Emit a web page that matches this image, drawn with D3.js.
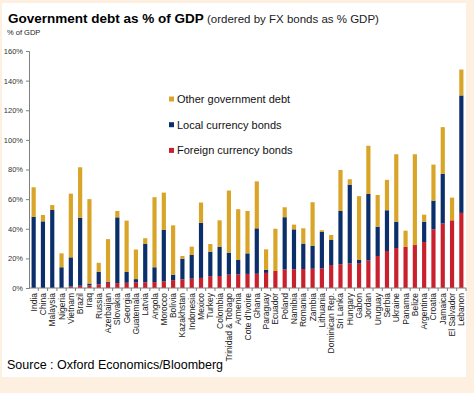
<!DOCTYPE html>
<html>
<head>
<meta charset="utf-8">
<script src="https://cdn.jsdelivr.net/npm/d3@7"></script>
<style>
  body { margin: 0; background: #fdf0e1; }
  svg { display: block; font-family: Arial, "Liberation Sans", sans-serif; }
</style>
</head>
<body>
<div id="chart"></div>
<script>
// countries, ordered by FX bonds as % GDP
var countries = ["India", "China", "Malaysia", "Nigeria", "Vietnam", "Brazil", "Iraq", "Russia",
  "Azerbaijan", "Slovakia", "Georgia", "Guatemala", "Latvia", "Angola", "Morocco", "Bolivia",
  "Kazakhstan", "Indonesia", "Mexico", "Turkey", "Colombia", "Trinidad & Tobago", "Armenia",
  "Cote d'Ivoire", "Ghana", "Paraguay", "Ecuador", "Poland", "Namibia", "Romania", "Zambia",
  "Lithuania", "Dominican Rep.", "Sri Lanka", "Hungary", "Gabon", "Jordan", "Uruguay", "Serbia",
  "Ukraine", "Panama", "Belize", "Argentina", "Croatia", "Jamaica", "El Salvador", "Lebanon"];

// % of GDP
var foreignBonds = [0, 0, 0, 0, 1, 1.5, 1.8, 2.5, 3.5, 3.3, 3.5, 3.7, 3.8, 4, 4.5, 5.3,
  5.8, 6.3, 6.8, 8, 8.1, 9, 9.2, 9.5, 9.6, 10.2, 11.5, 12.5, 12.6, 12.8, 13,
  13.3, 15.5, 16, 16.5, 16.8, 18.5, 21.6, 25, 27, 27.7, 29, 31, 39.6, 43.5, 45.7, 50.7];
var localBonds = [48, 45, 52.7, 14, 19.7, 46, 1.2, 8.5, 0.7, 44.4, 7.3, 2.3, 25.9, 10, 34.7, 3.7,
  14, 16, 37.2, 16.5, 19.8, 14.9, 9.7, 13.9, 30.7, 2, 0, 35.3, 27, 17.2, 15.6,
  24.5, 16.9, 36, 53.3, 2.1, 45, 19.8, 27.5, 17.8, 0, 0, 13.8, 19.4, 33.5, 0, 79.3];
var otherDebt = [20, 4.3, 3.3, 9.4, 43, 34, 57, 6, 28.8, 4.3, 34.7, 20, 3.9, 47.3, 25.2, 33.3,
  1.8, 5.6, 13.7, 5.2, 17.8, 41.9, 34.3, 28.6, 31.7, 13.9, 28.5, 6.7, 3.2, 10.3, 29.3,
  1.2, 3.4, 27.7, 3.6, 43.1, 32.5, 21.4, 20.5, 45.5, 11, 61.3, 4.7, 24.3, 31.6, 15.3, 17.5];

var yTicks = [0, 20, 40, 60, 80, 100, 120, 140, 160];
var seriesKeys = ["foreign", "local", "other"];
var seriesNames = { other: "Other government debt", local: "Local currency bonds", foreign: "Foreign currency bonds" };
var colors = { foreign: "#c8202c", local: "#0b2f6b", other: "#d9a528" };

var W = 474, H = 393;
var svg = d3.select("#chart").append("svg")
    .attr("width", W)
    .attr("height", H);

// white panel
svg.append("rect")
    .attr("x", 2).attr("y", 3)
    .attr("width", 464).attr("height", 374)
    .attr("fill", "#ffffff");

// title
var title = svg.append("text")
    .attr("x", 8).attr("y", 23);
title.append("tspan")
    .attr("font-weight", "bold")
    .attr("font-size", "13.5px")
    .attr("fill", "#000")
    .text("Government debt as % of GDP");
title.append("tspan")
    .attr("font-size", "11.5px")
    .attr("fill", "#222")
    .text(" (ordered by FX bonds as % GDP)");

svg.append("text")
    .attr("x", 7).attr("y", 35)
    .attr("font-size", "7.5px")
    .attr("fill", "#222")
    .text("% of GDP");

// data table for the stack
var table = countries.map(function(c, i) {
    return { country: c, foreign: foreignBonds[i], local: localBonds[i], other: otherDebt[i] };
});
var stacked = d3.stack().keys(seriesKeys)(table);

var x = d3.scaleBand()
    .domain(countries)
    .range([29, 466])
    .paddingInner(0.55)
    .paddingOuter(0.275);

var y = d3.scaleLinear()
    .domain([0, 160])
    .range([288, 51]);

// bars
svg.append("g")
  .selectAll("g")
  .data(stacked)
  .enter().append("g")
    .attr("fill", function(d) { return colors[d.key]; })
  .selectAll("rect")
  .data(function(d) { return d; })
  .enter().append("rect")
    .attr("x", function(d) { return x(d.data.country); })
    .attr("y", function(d) { return y(d[1]); })
    .attr("width", x.bandwidth())
    .attr("height", function(d) { return y(d[0]) - y(d[1]); });

// y axis
var yAxis = svg.append("g")
    .attr("transform", "translate(29,0)")
    .call(d3.axisLeft(y).tickValues(yTicks).tickSize(3).tickFormat(function(d) { return d + "%"; }));
yAxis.select(".domain").attr("stroke", "#808080");
yAxis.selectAll(".tick line").attr("stroke", "#808080");
yAxis.selectAll(".tick text")
    .attr("font-size", "7.5px")
    .attr("fill", "#333")
    .attr("font-family", "Arial, 'Liberation Sans', sans-serif");

// x axis: line with ticks between categories
var xAxis = svg.append("g")
    .attr("transform", "translate(0,288)");
xAxis.append("line")
    .attr("x1", 29).attr("x2", 466)
    .attr("stroke", "#808080");
xAxis.selectAll(".sep")
    .data(countries)
    .enter().append("line")
    .attr("x1", function(d) { return x(d) + x.bandwidth() / 2 + x.step() / 2; })
    .attr("x2", function(d) { return x(d) + x.bandwidth() / 2 + x.step() / 2; })
    .attr("y1", 0).attr("y2", 3)
    .attr("stroke", "#808080");
xAxis.selectAll(".lbl")
    .data(countries)
    .enter().append("text")
    .attr("transform", function(d) {
        return "translate(" + (x(d) + x.bandwidth() / 2 + 3) + ",5) rotate(-90)";
    })
    .attr("text-anchor", "end")
    .attr("font-size", "8.5px")
    .attr("fill", "#222")
    .text(function(d) { return d; });

// legend
var legendOrder = ["other", "local", "foreign"];
var legend = svg.append("g")
    .selectAll("g")
    .data(legendOrder)
    .enter().append("g")
    .attr("transform", function(d, i) { return "translate(169," + (99 + i * 25.7) + ")"; });
legend.append("rect")
    .attr("x", 0).attr("y", -2.5)
    .attr("width", 5).attr("height", 5)
    .attr("fill", function(d) { return colors[d]; });
legend.append("text")
    .attr("x", 8).attr("y", 4)
    .attr("font-size", "11px")
    .attr("fill", "#111")
    .text(function(d) { return seriesNames[d]; });

// source
svg.append("text")
    .attr("x", 7).attr("y", 369)
    .attr("font-size", "12.5px")
    .attr("fill", "#000")
    .text("Source : Oxford Economics/Bloomberg");
</script>
</body>
</html>
